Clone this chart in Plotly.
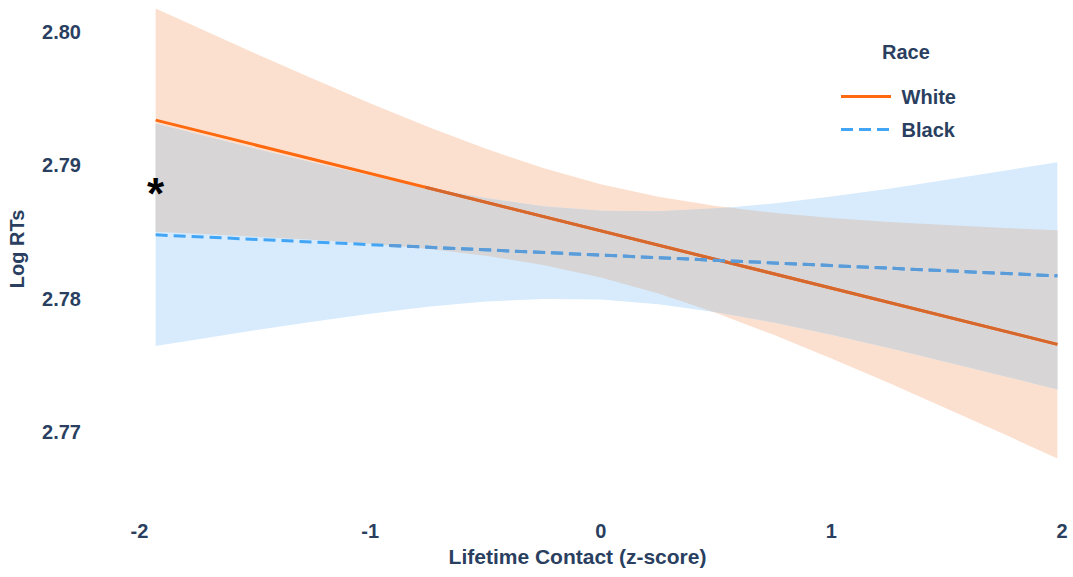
import numpy as np
import plotly.graph_objects as go

# Lifetime contact (z-score) grid for the confidence bands
contact_z = [-1.93, -1.75, -1.5, -1.25, -1.0, -0.75, -0.5, -0.25, 0.0,
             0.25, 0.5, 0.75, 1.0, 1.25, 1.5, 1.75, 1.98]

# White faces: 95% band on log RT
white_upper = [2.80174, 2.80033, 2.79839, 2.79649, 2.79464, 2.79288, 2.79125, 2.78979, 2.78858,
               2.78764, 2.78695, 2.78644, 2.78606, 2.78576, 2.78551, 2.78530, 2.78513]
white_lower = [2.78502, 2.78488, 2.78467, 2.78442, 2.78412, 2.78374, 2.78323, 2.78254, 2.78160,
               2.78039, 2.77894, 2.77730, 2.77554, 2.77369, 2.77179, 2.76985, 2.76805]

# Black faces: 95% band on log RT
black_upper = [2.79312, 2.79233, 2.79126, 2.79021, 2.78923, 2.78832, 2.78754, 2.78694, 2.78660,
               2.78655, 2.78675, 2.78714, 2.78766, 2.78825, 2.78890, 2.78959, 2.79023]
black_lower = [2.77646, 2.77696, 2.77764, 2.77829, 2.77888, 2.77940, 2.77979, 2.77999, 2.77994,
               2.77960, 2.77900, 2.77822, 2.77731, 2.77632, 2.77529, 2.77421, 2.77321]

# Fitted regression lines (endpoints)
fit_z = [-1.93, 1.98]
white_fit = [2.79338, 2.77659]
black_fit = [2.78479, 2.78172]

x_ticks = [-2, -1, 0, 1, 2]
x_ticklabels = ["-2", "-1", "0", "1", "2"]
y_ticks = [2.77, 2.78, 2.79, 2.80]
y_ticklabels = ["2.77", "2.78", "2.79", "2.80"]

ORANGE = "#FF6A10"
ORANGE_DIM = "#D5682F"
BLUE = "#42A5F5"
BLUE_DIM = "#5A9BD8"
ORANGE_FILL = "#FCE0CF"
BLUE_FILL = "#D7EBFC"
OVERLAP_FILL = "#D7D5D6"
TEXT = "#2a3f5f"
FONT = "Liberation Sans, Arial, Helvetica, sans-serif"


def with_crossings(xs, a, b):
    """Insert the points where piecewise-linear curves a and b cross."""
    xs, a, b = map(np.asarray, (xs, a, b))
    out_x, out_a, out_b = [xs[0]], [a[0]], [b[0]]
    for i in range(len(xs) - 1):
        d0, d1 = a[i] - b[i], a[i + 1] - b[i + 1]
        if d0 * d1 < 0:
            t = d0 / (d0 - d1)
            xc = xs[i] + t * (xs[i + 1] - xs[i])
            yc = a[i] + t * (a[i + 1] - a[i])
            out_x.append(xc); out_a.append(yc); out_b.append(yc)
        out_x.append(xs[i + 1]); out_a.append(a[i + 1]); out_b.append(b[i + 1])
    return np.array(out_x), np.array(out_a), np.array(out_b)


def band_polygon(xs, upper, lower):
    xs = list(xs)
    return xs + xs[::-1], list(upper) + list(lower)[::-1]


# Region where both bands overlap
xu, wu, bu = with_crossings(contact_z, white_upper, black_upper)
top_x, top_y = xu, np.minimum(wu, bu)
xl, wl, bl = with_crossings(contact_z, white_lower, black_lower)
bot_x, bot_y = xl, np.maximum(wl, bl)

fig = go.Figure()

px, py = band_polygon(contact_z, white_upper, white_lower)
fig.add_trace(go.Scatter(x=px, y=py, fill="toself", fillcolor=ORANGE_FILL, mode="lines",
                         line=dict(width=0), hoverinfo="skip", showlegend=False))
px, py = band_polygon(contact_z, black_upper, black_lower)
fig.add_trace(go.Scatter(x=px, y=py, fill="toself", fillcolor=BLUE_FILL, mode="lines",
                         line=dict(width=0), hoverinfo="skip", showlegend=False))
fig.add_trace(go.Scatter(x=list(top_x) + list(bot_x[::-1]), y=list(top_y) + list(bot_y[::-1]),
                         fill="toself", fillcolor=OVERLAP_FILL, mode="lines",
                         line=dict(width=0), hoverinfo="skip", showlegend=False))


def inside_overlap(fit_y):
    """x-span over which a fitted line runs through the shared band region."""
    zz = np.linspace(fit_z[0], fit_z[1], 4000)
    yy = np.interp(zz, fit_z, fit_y)
    top = np.interp(zz, top_x, top_y)
    bot = np.interp(zz, bot_x, bot_y)
    idx = np.where((yy < top) & (yy > bot))[0]
    return zz[idx[0]], zz[idx[-1]]


# Fitted lines: full colour, then a darker run where they cross the shared band
for name, fit, col, dim, dash in [("White", white_fit, ORANGE, ORANGE_DIM, "solid"),
                                  ("Black", black_fit, BLUE, BLUE_DIM, "12px,6px")]:
    fig.add_trace(go.Scatter(x=fit_z, y=fit, mode="lines", name="\u00a0" + name,
                             legendgroup=name, line=dict(color=col, width=3, dash=dash)))
    z0, z1 = inside_overlap(fit)
    fig.add_trace(go.Scatter(x=[z0, z1], y=list(np.interp([z0, z1], fit_z, fit)), mode="lines",
                             line=dict(color=dim, width=3, dash=dash), legendgroup=name,
                             showlegend=False, hoverinfo="skip"))

fig.add_annotation(x=-1.93, y=2.7880, text="*", showarrow=False, yshift=-2,
                   font=dict(size=44, color="black", family=FONT, weight="bold"))

# Legend heading
fig.add_annotation(xref="paper", yref="paper", x=(906 - 88) / 979, y=1 - (52 - 3) / 492,
                   xanchor="center", yanchor="middle", text="Race", showarrow=False,
                   font=dict(size=20, color=TEXT, family=FONT, weight="bold"))

fig.update_layout(
    width=1073, height=577,
    margin=dict(l=88, r=6, t=3, b=82),
    plot_bgcolor="white", paper_bgcolor="white",
    font=dict(family=FONT, size=20, color=TEXT, weight="bold"),
    xaxis=dict(range=[-2.2233, 2.0217], tickvals=x_ticks, ticktext=x_ticklabels,
               showgrid=False, zeroline=False, showline=False, ticks="",
               ticklabelstandoff=22,
               title=dict(text="Lifetime Contact (z-score)", standoff=8,
                          font=dict(size=21, weight="bold"))),
    yaxis=dict(range=[2.76531, 2.80215], tickvals=y_ticks, ticktext=y_ticklabels,
               showgrid=False, zeroline=False, showline=False, ticks="",
               ticklabelstandoff=6,
               title=dict(text="Log RTs", standoff=12, font=dict(size=20, weight="bold"))),
    legend=dict(x=(836 - 88) / 979, y=1 - (77 - 3) / 492, xanchor="left", yanchor="top",
                bgcolor="rgba(0,0,0,0)", itemwidth=50, tracegroupgap=4,
                font=dict(size=20, weight="bold")),
)

fig.write_html("out.html")
